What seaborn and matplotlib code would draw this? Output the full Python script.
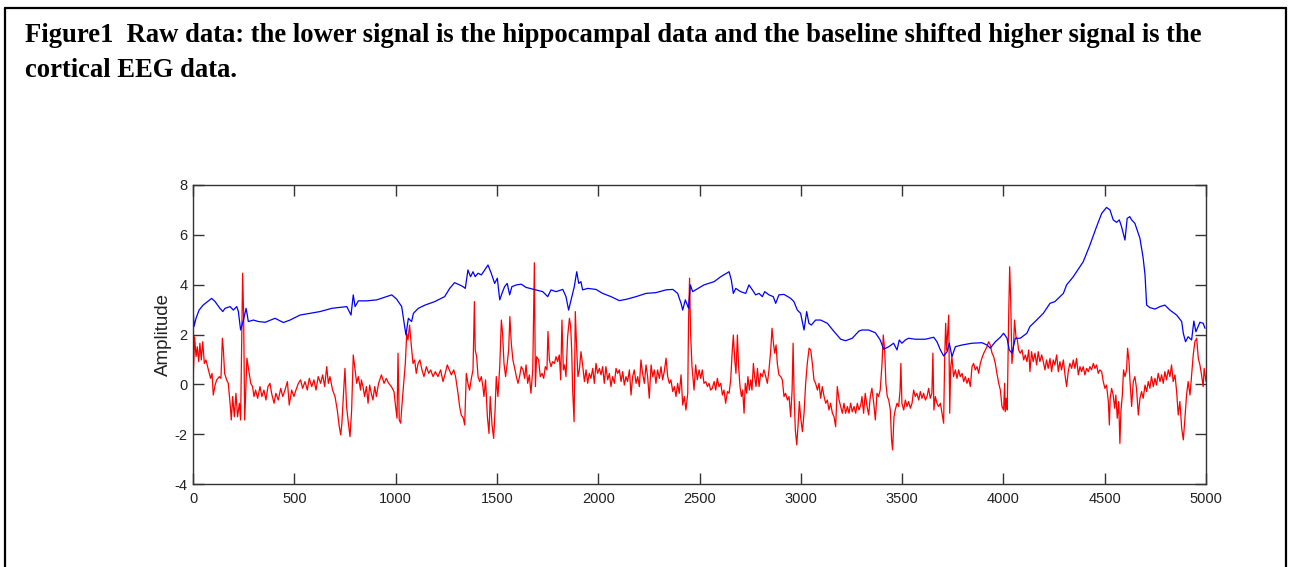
import numpy as np
import pandas as pd
import matplotlib
matplotlib.use("Agg")
import matplotlib.pyplot as plt
from matplotlib.lines import Line2D
import seaborn as sns

# Cortical EEG trace (baseline shifted upward): sample index and amplitude
cortical_samples = [
    0, 5, 15, 30, 50, 92, 109, 133, 147, 158, 183, 199, 216, 224, 235, 249, 262, 268, 273, 298,
    323, 356, 405, 446, 479, 528, 578, 627, 685, 726, 759, 780, 791, 800, 816, 857, 907, 940, 981, 1005,
    1030, 1041, 1051, 1063, 1079, 1088, 1112, 1145,
    1193, 1242, 1267, 1291, 1316, 1333, 1344, 1357, 1370, 1382, 1393, 1407, 1423, 1440, 1456, 1472, 1489, 1502,
    1514, 1525, 1538, 1551, 1563, 1574, 1596, 1620,
    1644, 1693, 1726, 1751, 1767, 1792, 1825, 1841, 1854, 1866, 1882, 1894, 1904, 1915, 1923, 1948, 1989, 2022,
    2063, 2104, 2137, 2187, 2236, 2285, 2334, 2368, 2392, 2409, 2417, 2430, 2446, 2455, 2466,
    2522, 2572, 2605, 2638, 2646, 2657, 2667, 2679, 2703, 2728, 2744, 2761, 2777, 2794, 2810, 2822, 2843, 2864,
    2876, 2892, 2917, 2950, 2966, 2983, 2999, 3016, 3029, 3040, 3052, 3073, 3098, 3131, 3164, 3197, 3221, 3254, 3287,
    3302, 3335, 3368, 3392, 3409, 3434, 3458, 3475, 3486, 3499, 3516, 3532, 3565, 3615, 3656, 3672, 3689, 3705,
    3722, 3733, 3746, 3763, 3796, 3845, 3894, 3919, 3935, 3960, 3985, 4001, 4018, 4029, 4042, 4059, 4083, 4116,
    4131, 4164, 4197, 4230, 4254, 4296, 4312, 4345, 4394, 4427, 4460, 4485, 4509, 4526, 4542, 4559, 4572, 4583,
    4600, 4611, 4624, 4633, 4649, 4674, 4690, 4699, 4707, 4723, 4748, 4773, 4797, 4822, 4855, 4880, 4888, 4899,
    4912, 4929, 4940, 4950, 4970, 4986, 4995,
]
cortical_amp = [
    3.12, 2.32, 2.65, 2.98, 3.18, 3.45, 3.32, 3.05, 2.92, 3.05, 3.12, 2.98, 3.12, 2.92, 2.18, 2.58, 3.05, 2.78, 2.52, 2.58,
    2.52, 2.49, 2.65, 2.48, 2.58, 2.78, 2.85, 2.92, 3.05, 3.09, 3.12, 2.78, 3.59, 3.12, 3.35, 3.35, 3.39, 3.48, 3.59, 3.42,
    3.12, 2.52, 1.98, 2.65, 2.52, 2.85, 3.05, 3.18,
    3.32, 3.52, 3.85, 4.08, 3.99, 3.92, 3.85, 4.59, 4.32, 4.52, 4.32, 4.46, 4.39, 4.59, 4.79, 4.46, 4.05, 4.26,
    3.39, 3.65, 3.92, 4.05, 3.59, 3.92, 3.99, 4.02,
    3.89, 3.79, 3.72, 3.52, 3.79, 3.72, 3.81, 3.52, 2.98, 3.39, 3.92, 4.52, 4.05, 4.12, 3.79, 3.85, 3.81, 3.65,
    3.52, 3.36, 3.41, 3.52, 3.65, 3.68, 3.79, 3.81, 3.65, 3.25, 2.98, 3.39, 3.05, 3.99, 3.72,
    3.99, 4.12, 4.32, 4.48, 4.52, 4.19, 3.65, 3.85, 3.72, 3.65, 3.99, 3.79, 3.59, 3.65, 3.52, 3.72, 3.59, 3.52,
    3.25, 3.59, 3.61, 3.45, 3.32, 2.98, 2.85, 2.18, 2.92, 2.45, 2.38, 2.58, 2.58, 2.45, 2.12, 1.81, 1.75, 1.85, 2.14,
    2.18, 2.18, 2.07, 1.78, 1.41, 1.51, 1.65, 1.38, 1.78, 1.65, 1.78, 1.85, 1.81, 1.81, 1.89, 1.71, 1.38, 1.14,
    1.31, 1.65, 1.11, 1.51, 1.58, 1.65, 1.67, 1.58, 1.45, 1.71, 1.89, 2.05, 1.85, 1.38, 1.25, 1.85, 1.85, 2.05,
    2.32, 2.58, 2.85, 3.25, 3.32, 3.65, 3.99, 4.32, 4.92, 5.59, 6.33, 6.86, 7.10, 7.00, 6.60, 6.50, 6.60, 6.33,
    5.79, 6.66, 6.73, 6.60, 6.46, 5.86, 5.06, 4.39, 3.18, 3.08, 3.02, 3.12, 3.18, 2.98, 2.78, 2.52, 2.05, 1.71,
    1.91, 1.78, 2.54, 2.11, 2.49, 2.45, 2.25,
]

# Hippocampal trace: sample index and amplitude
hippo_samples = [
    0, 8, 15, 21, 28, 34, 41, 48, 56, 64, 76, 87, 94, 100, 109, 117, 130, 138, 145, 150,
    156, 166, 174, 183, 189, 196, 204, 212, 220, 229, 235, 240, 245, 250, 255, 260, 266, 275, 285, 294,
    301, 309, 319, 331, 340, 350, 360, 370, 380, 388, 400, 409, 421, 433, 443, 454, 466, 475, 487, 498,
    508, 520, 531, 541, 553, 564, 574, 586, 597, 607, 618, 630, 640, 650, 660, 668, 676, 689, 701, 712,
    722, 729, 735, 742, 750, 758, 767, 775, 783, 791, 800, 808, 816, 827,
    831, 839, 847, 856, 864, 872, 880, 888, 897, 905, 916, 930, 943, 954, 966, 979, 992, 1000, 1007, 1012,
    1018, 1025, 1032, 1040, 1048, 1055, 1061, 1069, 1078, 1086, 1094, 1102, 1111, 1120, 1130, 1140, 1152, 1163, 1173, 1185,
    1196, 1209, 1222, 1234, 1245, 1255, 1265, 1275, 1287, 1296, 1308, 1316, 1324, 1334, 1341, 1349, 1357, 1365, 1374, 1382,
    1389, 1393, 1400, 1407, 1415, 1423, 1431, 1436, 1444, 1453, 1461, 1467, 1476, 1484, 1491, 1497, 1505, 1514, 1522, 1528,
    1535, 1543, 1551, 1558, 1564, 1571, 1579, 1588, 1596, 1604, 1612, 1620, 1629, 1637,
    1644, 1652, 1660, 1668, 1677, 1685, 1690, 1696, 1706, 1714, 1723, 1731, 1739, 1747, 1752, 1759, 1767, 1775, 1784, 1792,
    1800, 1808, 1815, 1821, 1828, 1834, 1841, 1849, 1858, 1864, 1869, 1874, 1881, 1887, 1894, 1900, 1907, 1915, 1923, 1932,
    1940, 1948, 1956, 1964, 1973, 1981, 1989, 1997, 2006, 2014, 2022, 2030, 2038, 2047, 2055, 2063, 2071, 2080, 2088, 2096,
    2104, 2113, 2121, 2129, 2137, 2145, 2154, 2162, 2170, 2178, 2187, 2195, 2203, 2211, 2219, 2228, 2236, 2244, 2252, 2261,
    2269, 2277, 2285, 2293, 2302, 2310, 2318, 2326, 2335, 2343, 2351, 2359, 2368, 2376, 2384, 2392, 2400, 2409, 2417, 2425,
    2433, 2442, 2446, 2451, 2456, 2463,
    2473, 2481, 2489, 2498, 2506, 2514, 2522, 2531, 2539, 2547, 2555, 2563, 2572, 2580, 2588, 2596, 2605, 2613, 2621, 2629,
    2638, 2646, 2654, 2661, 2667, 2674, 2680, 2687, 2693, 2700, 2707, 2713, 2720, 2726, 2733, 2739, 2746, 2753, 2759, 2766,
    2772, 2779, 2786, 2794, 2802, 2810, 2818, 2827, 2835, 2843, 2851, 2858, 2865, 2871, 2878, 2884, 2892, 2901, 2909, 2917,
    2925, 2934, 2942, 2950, 2957, 2962, 2967, 2973, 2980, 2986, 2993, 2999, 3008, 3016, 3024, 3032, 3041, 3049, 3057, 3065,
    3073, 3082, 3090, 3098, 3106, 3115, 3123, 3131, 3139, 3147, 3156, 3164, 3172, 3180, 3189, 3197, 3205, 3213, 3221, 3230,
    3238, 3246, 3254, 3263, 3271, 3279, 3287, 3296,
    3302, 3310, 3318, 3327, 3335, 3343, 3351, 3360, 3368, 3376, 3384, 3392, 3401, 3407, 3414, 3420, 3427, 3434, 3442, 3448,
    3453, 3460, 3466, 3475, 3483, 3490, 3494, 3499, 3508, 3516, 3524, 3532, 3541, 3549, 3557, 3565, 3573, 3582, 3590, 3598,
    3606, 3615, 3623, 3631, 3639, 3647, 3652, 3657, 3664, 3672, 3680, 3689, 3697, 3705, 3710, 3715, 3720, 3725, 3730, 3735,
    3740, 3746, 3754, 3763, 3771, 3779, 3787, 3796, 3804, 3812, 3820, 3828, 3837, 3845, 3853, 3861, 3870, 3878, 3886, 3894,
    3903, 3911, 3919, 3927, 3935, 3944, 3952, 3960, 3968, 3977, 3985, 3993, 4001, 4006, 4009, 4014, 4019, 4026, 4031, 4036,
    4042, 4049, 4055, 4062, 4069, 4075, 4083, 4092, 4100, 4108, 4116, 4125,
    4131, 4139, 4147, 4156, 4164, 4172, 4180, 4189, 4197, 4205, 4213, 4221, 4230, 4238, 4246, 4254, 4263, 4271, 4279, 4287,
    4296, 4304, 4312, 4320, 4328, 4337, 4345, 4353, 4361, 4370, 4378, 4386, 4394, 4402, 4411, 4419, 4427, 4435, 4444, 4452,
    4460, 4468, 4476, 4485, 4493, 4501, 4509, 4518, 4523, 4527, 4534, 4542, 4549, 4555, 4562, 4569, 4575, 4580, 4587, 4593,
    4600, 4608, 4613, 4620, 4625, 4633, 4641, 4649, 4657, 4666, 4674, 4682, 4690, 4699, 4707, 4715, 4723, 4731, 4740, 4748,
    4756, 4764, 4773, 4781, 4789, 4797, 4805, 4814, 4822, 4830, 4838, 4847, 4855, 4863, 4871, 4880, 4888, 4896, 4904, 4912,
    4921, 4929, 4937, 4945, 4954, 4962, 4970, 4978, 4986, 4991, 5000,
]
hippo_amp = [
    0.04, 1.91, 1.11, 1.51, 0.91, 1.65, 0.98, 1.71, 0.84, 0.98, 0.58, 0.24, 0.44, -0.43, -0.03, 0.18, 0.31, 0.24, 1.85, 1.38,
    0.44, 0.18, 0.04, -0.76, -1.43, -0.49, -1.30, -0.36, -1.30, -0.76, -1.43, 1.65, 4.46, 2.72, -1.43, -0.36, 1.05, 0.58, 0.04, -0.09,
    -0.49, -0.23, -0.56, -0.09, -0.49, -0.23, -0.63, -0.09, 0.04, -0.36, -0.76, -0.36, -0.63, -0.16, -0.49, -0.23, 0.11, -0.83, -0.23, -0.49,
    -0.23, 0.04, 0.18, -0.16, 0.11, -0.23, 0.24, -0.09, 0.18, -0.23, 0.31, 0.04, 0.38, -0.09, 0.71, 0.04, 0.31, -0.23, -0.49, -1.03,
    -1.70, -2.03, -1.56, -0.49, 0.64, -0.89, -1.56, -2.10, -1.03, 1.18, 0.58, 0.04, 0.31, -0.23,
    0.18, -0.09, -0.49, -0.09, -0.76, -0.03, -0.36, -0.63, -0.09, -0.49, 0.04, 0.38, 0.04, 0.24, 0.04, -0.09, -0.29, -0.89, -1.36, 1.25,
    -1.43, -1.56, -0.76, 0.04, 0.84, 2.05, 1.78, 2.38, 1.51, 0.84, 0.98, 0.44, 0.84, 0.98, 0.58, 0.31, 0.71, 0.44, 0.58, 0.31,
    0.51, 0.31, 0.58, 0.11, 0.44, 0.78, 0.58, 0.38, 0.58, 0.31, -0.36, -0.89, -1.23, -1.36, -1.63, 0.44, 0.04, -0.23, 0.24, 0.58,
    3.32, 1.38, 1.11, 0.31, 0.11, 0.31, -0.09, -0.49, 0.18, -1.30, -1.97, -0.49, -1.63, -2.17, -1.03, 0.31, -0.49, 0.71, 2.58, 2.05,
    0.84, 0.31, 0.84, 1.38, 2.72, 1.65, 0.98, 0.64, 0.31, 0.04, 0.31, 0.71, 0.58, 0.24,
    0.78, 0.04, 0.38, -0.36, 0.58, 4.88, -0.09, 1.11, 0.98, 0.31, 0.44, 0.24, 0.71, 0.58, 2.12, 0.98, 0.71, 0.91, 0.84, 1.11,
    0.91, 1.18, 0.18, 2.58, 0.58, 0.78, 0.31, 1.91, 2.65, 2.32, 1.38, -0.23, -1.50, 2.92, 1.38, 0.31, 0.58, 1.31, 0.78, 0.11,
    0.58, 0.04, 0.44, 0.24, 0.64, 0.04, 0.84, 0.44, 0.64, 0.38, 0.71, 0.04, 0.71, 0.18, 0.44, -0.09, 0.31, 0.04, 0.64, 0.44,
    0.58, 0.11, 0.51, -0.03, 0.31, 0.11, 0.58, -0.43, 0.31, 0.58, 0.04, 0.31, -0.09, 0.98, 0.44, 0.04, 0.78, 0.31, -0.56, 0.78,
    0.31, 0.58, 0.04, 0.58, 0.24, 0.71, 0.18, 0.51, 1.05, 0.31, 0.04, 0.18, -0.29, -0.09, -0.49, 0.04, -0.36, 0.38, -0.83, -0.49,
    -1.03, -0.36, 2.58, 4.26, 2.05, 0.71,
    -0.23, 0.78, 0.18, 0.58, 0.24, 0.58, 0.04, 0.11, -0.09, 0.04, -0.23, -0.16, 0.11, -0.23, 0.24, -0.09, 0.04, -0.43, -0.23, -0.76,
    -0.29, -0.36, 0.18, 1.25, 1.98, 0.98, 0.44, 1.98, 0.71, -0.09, -0.49, -0.23, -1.16, 0.04, -0.36, 0.31, -0.23, 0.18, -0.23, 0.84,
    0.31, -0.09, 0.64, -0.09, 0.44, 0.31, 0.58, 0.31, 0.04, 0.58, 1.31, 2.25, 1.65, 1.25, 1.58, 0.84, 0.38, 0.31, 0.18, -0.49,
    -0.36, -0.63, -0.49, -1.30, -0.23, 1.65, -0.49, -1.83, -2.43, -1.70, -0.69, -1.30, -1.90, -1.16, 0.04, 0.84, 1.45, 1.38, 0.84, 0.18,
    0.04, -0.23, 0.04, -0.56, -0.09, -0.49, -0.76, -0.63, -1.03, -0.76, -1.16, -1.30, -1.70, -0.09, -0.63, -0.89, -1.16, -0.76, -1.16, -0.89,
    -1.16, -0.76, -1.10, -0.89, -1.16, -0.76, -1.03, -0.83,
    -0.49, -1.16, -0.36, -0.89, -1.23, -0.49, -0.16, -0.76, -1.43, -0.36, -0.49, -0.23, 0.84, 1.98, 1.38, 0.04, -0.49, -0.63, -1.03, -2.23,
    -2.63, -1.30, -1.03, -0.76, -0.89, -0.23, 0.84, -0.76, -1.03, -0.63, -0.89, -0.69, -0.96, -0.76, -0.23, -0.49, -0.36, -0.63, -0.29, -0.56,
    -0.36, -0.63, -0.49, -0.16, -0.56, -0.36, 1.25, -1.03, -0.49, -0.76, -0.89, -0.76, -1.16, -1.56, 0.98, 2.45, 1.38, 2.05, 2.78, -1.16,
    0.71, 1.11, 0.31, 0.58, 0.24, 0.58, 0.31, 0.44, 0.11, 0.31, 0.04, 0.24, -0.09, 0.71, 0.84, 0.58, 0.71, 0.44, 0.84, 1.05,
    1.25, 1.38, 1.51, 1.71, 1.58, 1.25, 1.11, 0.84, 0.44, 0.04, -0.23, -0.89, -1.03, 0.04, -1.10, -0.56, -1.03, 2.72, 4.72, 3.39,
    0.84, 1.38, 2.58, 1.91, 1.78, 1.38, 1.25, 1.38, 0.98, 1.18, 0.91, 1.38,
    0.51, 1.31, 0.91, 1.25, 0.78, 1.31, 0.91, 1.18, 0.91, 0.58, 0.98, 0.64, 1.04, 0.51, 0.98, 0.78, 1.18, 0.51, 0.91, 0.58,
    0.98, 0.38, -0.09, 0.51, 0.84, 0.64, 0.98, 0.64, 1.04, 0.38, 0.71, 0.51, 0.71, 0.38, 0.64, 0.51, 0.71, 0.58, 0.84, 0.64,
    0.78, 0.44, 0.58, 0.51, 0.11, -0.16, -0.03, -0.69, -1.63, -0.56, -0.16, -0.43, -0.96, -0.43, -1.36, -0.69, -2.37, -1.10, -0.43, 0.58,
    0.31, 0.58, 1.45, 0.91, 0.11, -0.89, 0.11, 0.31, -0.16, -1.23, -0.56, -0.29, -0.56, -0.03, -0.29, 0.11, -0.16, 0.31, -0.09, 0.24,
    -0.03, 0.44, 0.11, 0.38, 0.04, 0.51, 0.18, 0.58, 0.31, 0.78, 0.11, 0.38, -0.29, -1.23, -0.69, -1.76, -2.23, -1.36, -0.43, 0.11,
    -0.43, 0.38, 1.18, 1.71, 1.85, 1.04, 0.78, 0.38, -0.09, 0.64, 0.11,
]

x_ticks = [0, 500, 1000, 1500, 2000, 2500, 3000, 3500, 4000, 4500, 5000]
y_ticks = [-4, -2, 0, 2, 4, 6, 8]
title_lines = [
    "Figure1  Raw data: the lower signal is the hippocampal data and the baseline shifted higher signal is the",
    "cortical EEG data.",
]

sns.set_style("white")
plt.rcParams["font.family"] = ["Liberation Sans", "DejaVu Sans"]

W, H = 1294, 567
fig = plt.figure(figsize=(W / 100, H / 100), dpi=100)
fig.patch.set_facecolor("white")

ax = fig.add_axes([193 / W, 1 - 484 / H, (1206 - 193) / W, (484 - 185) / H])

cortical = pd.DataFrame({"sample": cortical_samples, "amp": cortical_amp})
hippo = pd.DataFrame({"sample": hippo_samples, "amp": hippo_amp})

sns.lineplot(data=hippo, x="sample", y="amp", color="#ff0000", linewidth=0.9,
             estimator=None, sort=False, ax=ax)
sns.lineplot(data=cortical, x="sample", y="amp", color="#0000ff", linewidth=0.9,
             estimator=None, sort=False, ax=ax)

ax.set_xlim(0, 5000)
ax.set_ylim(-4, 8)
ax.set_xticks(x_ticks)
ax.set_yticks(y_ticks)
ax.set_xticklabels([str(t) for t in x_ticks])
ax.set_yticklabels([str(t) for t in y_ticks])
ax.set_xlabel("")
ax.set_ylabel("Amplitude", fontsize=13.5, color="#222222", labelpad=2)

ax.tick_params(direction="in", length=8, width=1.0, color="#333333",
               labelsize=10.5, labelcolor="#222222", top=True, right=True,
               bottom=True, left=True)
ax.tick_params(axis="x", pad=6)
ax.tick_params(axis="y", pad=4)
for side in ax.spines.values():
    side.set_visible(True)
    side.set_color("#333333")
    side.set_linewidth(1.0)

# Caption above the chart
fig.text(25 / W, 1 - 42 / H, title_lines[0], family="Liberation Serif", weight="bold",
         fontsize=19.2, va="baseline", ha="left", color="black")
fig.text(25 / W, 1 - 77 / H, title_lines[1], family="Liberation Serif", weight="bold",
         fontsize=19.2, va="baseline", ha="left", color="black")

# Frame around the figure
def frame_line(x0, y0, x1, y1):
    fig.add_artist(Line2D([x0 / W, x1 / W], [1 - y0 / H, 1 - y1 / H],
                          transform=fig.transFigure, color="black", linewidth=1.6))

frame_line(5, 8, 1286, 8)
frame_line(5, 8, 5, 567)
frame_line(1286, 8, 1286, 567)

fig.savefig("out.png", dpi=100, facecolor="white")
